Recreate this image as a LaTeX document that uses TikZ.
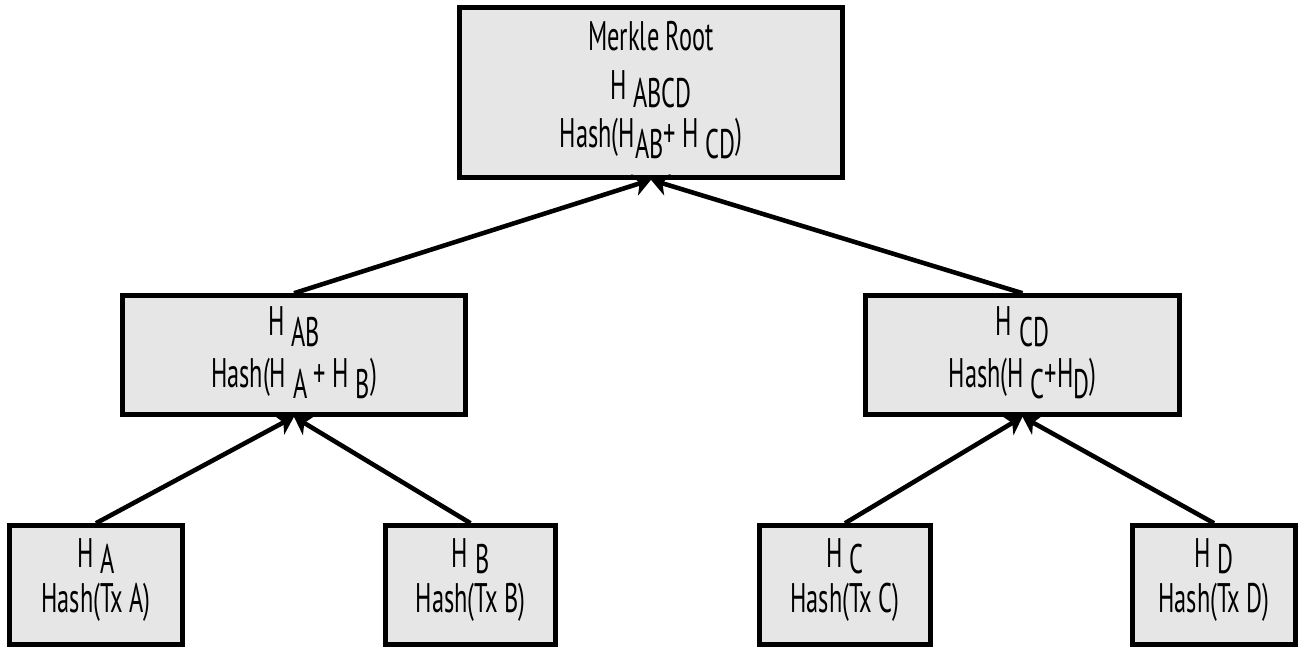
\documentclass[tikz,border=0pt]{standalone}
\usepackage{fontspec}
\setmainfont[FakeStretch=0.59]{PT Sans}
\usepackage{tikz}
\usetikzlibrary{arrows.meta, positioning}
\definecolor{boxgray}{RGB}{230, 230, 230}

\newcommand{\lowsub}[2][6pt]{\raisebox{-#1}[0pt][0pt]{#2}}

\begin{document}
\begin{tikzpicture}[
  >=Stealth,
  hashbox/.style={
    rectangle, draw=black, fill=boxgray, line width=2.6pt,
    minimum width=#1, inner sep=0pt, align=center
  },
  rootbox/.style={hashbox=7.66cm, minimum height=3.4cm,
    font=\fontsize{23.5}{27.5}\selectfont},
  midbox/.style={hashbox=#1, minimum height=2.38cm,
    font=\fontsize{23.5}{29.6}\selectfont},
  leafbox/.style={hashbox=#1, minimum height=2.38cm,
    font=\fontsize{23.5}{25.5}\selectfont},
  up/.style={-{Stealth[length=0.34cm, width=0.44cm, inset=0.1cm]}, line width=2.6pt},
]

\useasboundingbox (0,0) rectangle (26.08,-12.98);

\def\rowRoot{-1.85}
\def\rowMid{-7.10}
\def\rowLeaf{-11.70}

% root of the tree
\node[rootbox] (root) at (13.02, \rowRoot)
  {Merkle Root\\H\,\lowsub[4.5pt]{ABCD}\\Hash(H\lowsub{AB}+ H\,\lowsub{CD})\rule[-9pt]{0pt}{1pt}};

% middle level
\node[midbox=6.86cm] (hAB) at (5.88, \rowMid)
  {H\,\lowsub{AB}\\Hash(H\,\lowsub{A} + H\,\lowsub{B})\rule[-9pt]{0pt}{1pt}};
\node[midbox=6.28cm] (hCD) at (20.45, \rowMid)
  {H\,\lowsub{CD}\\Hash(H\,\lowsub{C}+H\lowsub{D})\rule[-9pt]{0pt}{1pt}};

% leaves
\node[leafbox=3.46cm] (hA) at (1.92, \rowLeaf)
  {H\,\lowsub[3.5pt]{A}\\Hash(Tx A)\rule[-11pt]{0pt}{1pt}};
\node[leafbox=3.40cm] (hB) at (9.41, \rowLeaf)
  {H\,\lowsub[3.5pt]{B}\\Hash(Tx B)\rule[-11pt]{0pt}{1pt}};
\node[leafbox=3.42cm] (hC) at (16.90, \rowLeaf)
  {H\,\lowsub[3.5pt]{C}\\Hash(Tx C)\rule[-11pt]{0pt}{1pt}};
\node[leafbox=3.26cm] (hD) at (24.28, \rowLeaf)
  {H\,\lowsub[3.5pt]{D}\\Hash(Tx D)\rule[-11pt]{0pt}{1pt}};

% hashes point up to their parent
\draw[up] (hA.north) -- (hAB.south);
\draw[up] (hB.north) -- (hAB.south);
\draw[up] (hC.north) -- (hCD.south);
\draw[up] (hD.north) -- (hCD.south);
\draw[up] (hAB.north) -- (root.south);
\draw[up] (hCD.north) -- (root.south);

\end{tikzpicture}
\end{document}
